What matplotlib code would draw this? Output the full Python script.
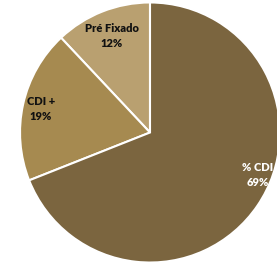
import matplotlib
matplotlib.use("Agg")
import matplotlib.pyplot as plt
import numpy as np

categories = ["Pré Fixado", "CDI +", "% CDI"]
values = [12, 19, 69]
colors = ["#B9A070", "#A68A50", "#7B653F"]
text_colors = ["#111111", "#111111", "#FFFFFF"]
# label placement (angle in degrees, distance as fraction of radius)
label_pos = [(111.6, 0.80), (168.0, 0.86), (-21.7, 0.89)]

fig = plt.figure(figsize=(2.77, 2.65), dpi=100)
ax = fig.add_axes([0, 0, 1, 1])
ax.pie(values, colors=colors, startangle=90, counterclock=True,
       wedgeprops=dict(edgecolor="white", linewidth=1.5))
ax.set_xlim(-1.154, 0.977)
ax.set_ylim(-1.019, 1.019)
ax.set_aspect("auto")
ax.axis("off")

for cat, v, tc, (ang, d) in zip(categories, values, text_colors, label_pos):
    a = np.deg2rad(ang)
    ax.text(d * np.cos(a), d * np.sin(a), f"{cat}\n{v}%", ha="center", va="center",
            fontsize=8, fontweight="heavy", color=tc, family=["Lato", "DejaVu Sans"],
            linespacing=1.45)

fig.savefig("out.png", dpi=100)
